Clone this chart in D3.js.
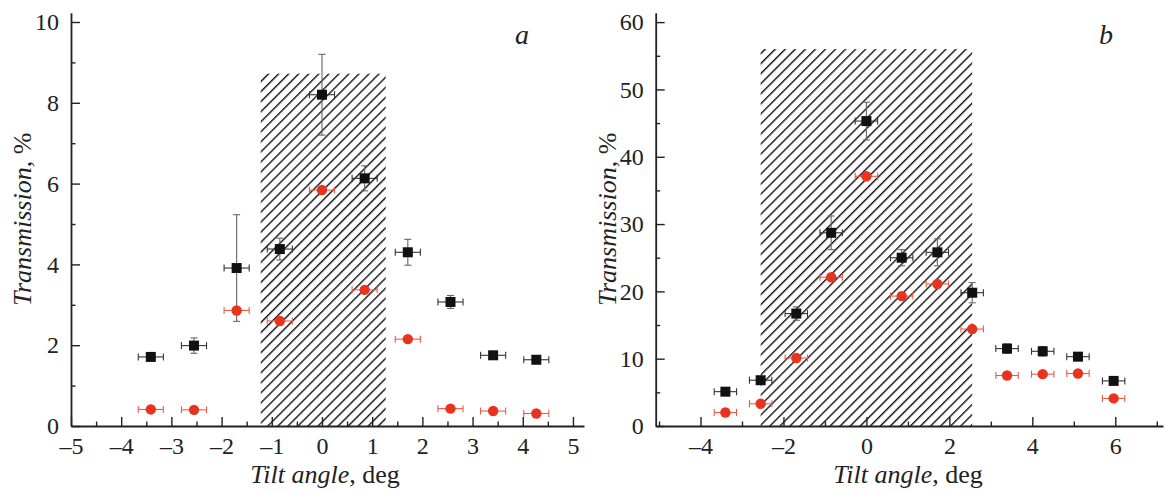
<!DOCTYPE html>
<html>
<head>
<meta charset="utf-8">
<script src="https://cdn.jsdelivr.net/npm/d3@7"></script>
<style>
    body { margin: 0; background: #fff; }
    svg text { font-family: "Liberation Serif", "Times New Roman", "DejaVu Serif", serif; fill: #222; }
    .axis path, .axis line { stroke: #222; }
    .axis path { stroke-width: 1.8; }
    .axis line { stroke-width: 1.4; }
</style>
</head>
<body>
<svg id="chart" width="1165" height="491"></svg>
<script>

var serif = "Liberation Serif, Times New Roman, DejaVu Serif, serif";

// panel a
var tiltA = [-3.41, -2.55, -1.70, -0.84, 0, 0.85, 1.71, 2.56, 3.41, 4.27];
var tiltErrA = [0.25, 0.25, 0.25, 0.25, 0.25, 0.25, 0.25, 0.25, 0.25, 0.25];
var blackA = [1.71, 1.99, 3.91, 4.38, 8.20, 6.13, 4.30, 3.07, 1.75, 1.64];
var blackErrA = [0.05, 0.19, 1.32, 0.27, 1.00, 0.31, 0.32, 0.16, 0.05, 0.05];
var redA = [0.41, 0.40, 2.86, 2.60, 5.84, 3.37, 2.15, 0.43, 0.37, 0.31];
var hatchA = [-1.22, 1.27, 8.72];   // x from, x to, top
var xTicksA = [-5, -4, -3, -2, -1, 0, 1, 2, 3, 4, 5];
var yTicksA = [0, 2, 4, 6, 8, 10];

// panel b
var tiltB = [-3.40, -2.55, -1.69, -0.85, 0, 0.85, 1.71, 2.55, 3.39, 4.25, 5.10, 5.96];
var tiltErrB = [0.27, 0.27, 0.27, 0.27, 0.27, 0.27, 0.27, 0.27, 0.27, 0.27, 0.27, 0.27];
var blackB = [5.1, 6.8, 16.7, 28.7, 45.3, 25.0, 25.8, 19.8, 11.5, 11.1, 10.3, 6.7];
var blackErrB = [0.4, 0.5, 1.0, 2.5, 2.8, 1.2, 2.0, 1.5, 0.7, 0.7, 0.4, 0.3];
var redB = [2.0, 3.3, 10.1, 22.1, 37.1, 19.3, 21.1, 14.4, 7.5, 7.7, 7.8, 4.1];
var hatchB = [-2.55, 2.55, 56.0];
var xTicksB = [-4, -2, 0, 2, 4, 6];
var yTicksB = [0, 10, 20, 30, 40, 50, 60];

var svg = d3.select("#chart");

var defs = svg.append("defs");
defs.append("pattern")
    .attr("id", "hatch")
    .attr("patternUnits", "userSpaceOnUse")
    .attr("width", 7.1)
    .attr("height", 7.1)
    .attr("patternTransform", "rotate(45)")
    .append("line")
    .attr("x1", 0).attr("y1", -1)
    .attr("x2", 0).attr("y2", 9)
    .attr("stroke", "#111")
    .attr("stroke-width", 2.8);

var panels = [
    {
        tilt: tiltA, tiltErr: tiltErrA, black: blackA, blackErr: blackErrA, red: redA,
        hatch: hatchA, xTicks: xTicksA, yTicks: yTicksA,
        xDomain: [-5, 5.22], xRange: [71, 584],
        yDomain: [0, 10.23], yRange: [426, 12.7],
        xMinorStep: 0.5, yMinorStep: 1,
        letter: "a", letterX: 522, titleX: 325, yTitleX: 31
    },
    {
        tilt: tiltB, tiltErr: tiltErrB, black: blackB, blackErr: blackErrB, red: redB,
        hatch: hatchB, xTicks: xTicksB, yTicks: yTicksB,
        xDomain: [-5.08, 7.15], xRange: [655.7, 1163],
        yDomain: [0, 61.4], yRange: [426, 12.7],
        xMinorStep: 1, yMinorStep: 5,
        letter: "b", letterX: 1106, titleX: 908, yTitleX: 616
    }
];

panels.forEach(drawPanel);

function drawPanel(p) {

    var x = d3.scaleLinear().domain(p.xDomain).range(p.xRange);
    var y = d3.scaleLinear().domain(p.yDomain).range(p.yRange);

    var g = svg.append("g");

    // hatched region
    g.append("rect")
        .attr("x", x(p.hatch[0]))
        .attr("y", y(p.hatch[2]))
        .attr("width", x(p.hatch[1]) - x(p.hatch[0]))
        .attr("height", y(0) - y(p.hatch[2]))
        .attr("fill", "url(#hatch)");

    // minor ticks
    var xMinor = d3.range(Math.ceil(p.xDomain[0] / p.xMinorStep) * p.xMinorStep, p.xDomain[1] + 1e-9, p.xMinorStep)
        .filter(function(v){ return p.xTicks.indexOf(+v.toFixed(2)) < 0 });
    var yMinor = d3.range(0, p.yDomain[1] + 1e-9, p.yMinorStep)
        .filter(function(v){ return p.yTicks.indexOf(+v.toFixed(2)) < 0 });

    g.append("g")
        .attr("class", "axis")
        .attr("transform", "translate(0," + y(0) + ")")
        .call(d3.axisBottom(x).tickValues(xMinor).tickSize(-4.5).tickFormat(""))
        .select(".domain").remove();

    g.append("g")
        .attr("class", "axis")
        .attr("transform", "translate(" + x(p.xDomain[0]) + ",0)")
        .call(d3.axisLeft(y).tickValues(yMinor).tickSize(-4.5).tickFormat(""))
        .select(".domain").remove();

    // major axes
    var xAxis = g.append("g")
        .attr("class", "axis")
        .attr("transform", "translate(0," + y(0) + ")")
        .call(d3.axisBottom(x).tickValues(p.xTicks).tickSize(-9).tickSizeOuter(0).tickPadding(11)
            .tickFormat(function(d){ return d < 0 ? "\u2013" + Math.abs(d) : d }));
    xAxis.attr("font-family", serif);
    xAxis.selectAll("text").attr("font-size", 24).attr("font-family", serif);

    var yAxis = g.append("g")
        .attr("class", "axis")
        .attr("transform", "translate(" + x(p.xDomain[0]) + ",0)")
        .call(d3.axisLeft(y).tickValues(p.yTicks).tickSize(-9).tickSizeOuter(0).tickPadding(12));
    yAxis.attr("font-family", serif);
    yAxis.selectAll("text").attr("font-size", 24).attr("font-family", serif);

    // error bars: red series (horizontal only)
    var cap = 3.5;
    var red = g.append("g").selectAll("g")
        .data(p.tilt.map(function(t, i){ return {x: t, xe: p.tiltErr[i], y: p.red[i]} }))
        .enter().append("g")
        .attr("stroke", "#ec5a48").attr("stroke-width", 1.1);

    red.append("line")
        .attr("x1", function(d){ return x(d.x - d.xe) }).attr("x2", function(d){ return x(d.x + d.xe) })
        .attr("y1", function(d){ return y(d.y) }).attr("y2", function(d){ return y(d.y) });
    red.append("line")
        .attr("x1", function(d){ return x(d.x - d.xe) }).attr("x2", function(d){ return x(d.x - d.xe) })
        .attr("y1", function(d){ return y(d.y) - cap }).attr("y2", function(d){ return y(d.y) + cap });
    red.append("line")
        .attr("x1", function(d){ return x(d.x + d.xe) }).attr("x2", function(d){ return x(d.x + d.xe) })
        .attr("y1", function(d){ return y(d.y) - cap }).attr("y2", function(d){ return y(d.y) + cap });

    // error bars: black series
    var black = g.append("g").selectAll("g")
        .data(p.tilt.map(function(t, i){ return {x: t, xe: p.tiltErr[i], y: p.black[i], ye: p.blackErr[i]} }))
        .enter().append("g")
        .attr("stroke-width", 1.1);

    black.append("line")
        .attr("stroke", "#333")
        .attr("x1", function(d){ return x(d.x - d.xe) }).attr("x2", function(d){ return x(d.x + d.xe) })
        .attr("y1", function(d){ return y(d.y) }).attr("y2", function(d){ return y(d.y) });
    black.append("line")
        .attr("stroke", "#333")
        .attr("x1", function(d){ return x(d.x - d.xe) }).attr("x2", function(d){ return x(d.x - d.xe) })
        .attr("y1", function(d){ return y(d.y) - cap }).attr("y2", function(d){ return y(d.y) + cap });
    black.append("line")
        .attr("stroke", "#333")
        .attr("x1", function(d){ return x(d.x + d.xe) }).attr("x2", function(d){ return x(d.x + d.xe) })
        .attr("y1", function(d){ return y(d.y) - cap }).attr("y2", function(d){ return y(d.y) + cap });
    black.append("line")
        .attr("stroke", "#666")
        .attr("x1", function(d){ return x(d.x) }).attr("x2", function(d){ return x(d.x) })
        .attr("y1", function(d){ return y(d.y - d.ye) }).attr("y2", function(d){ return y(d.y + d.ye) });
    black.append("line")
        .attr("stroke", "#666")
        .attr("x1", function(d){ return x(d.x) - cap }).attr("x2", function(d){ return x(d.x) + cap })
        .attr("y1", function(d){ return y(d.y - d.ye) }).attr("y2", function(d){ return y(d.y - d.ye) });
    black.append("line")
        .attr("stroke", "#666")
        .attr("x1", function(d){ return x(d.x) - cap }).attr("x2", function(d){ return x(d.x) + cap })
        .attr("y1", function(d){ return y(d.y + d.ye) }).attr("y2", function(d){ return y(d.y + d.ye) });

    // markers
    g.append("g").selectAll("circle")
        .data(p.tilt)
        .enter().append("circle")
        .attr("cx", function(d){ return x(d) })
        .attr("cy", function(d, i){ return y(p.red[i]) })
        .attr("r", 5.2)
        .attr("fill", "#e8341f");

    g.append("g").selectAll("rect")
        .data(p.tilt)
        .enter().append("rect")
        .attr("x", function(d){ return x(d) - 5 })
        .attr("y", function(d, i){ return y(p.black[i]) - 5 })
        .attr("width", 10)
        .attr("height", 10)
        .attr("fill", "#111");

    // titles
    var xt = g.append("text")
        .attr("x", p.titleX)
        .attr("y", 483)
        .attr("text-anchor", "middle")
        .attr("font-family", serif)
        .attr("font-size", 26);
    xt.append("tspan").attr("font-style", "italic").text("Tilt angle");
    xt.append("tspan").text(", deg");

    var yt = g.append("text")
        .attr("transform", "translate(" + p.yTitleX + "," + y((p.yDomain[0] + p.yDomain[1]) / 2) + ") rotate(-90)")
        .attr("text-anchor", "middle")
        .attr("font-family", serif)
        .attr("font-size", 26);
    yt.append("tspan").attr("font-style", "italic").text("Transmission");
    yt.append("tspan").text(", %");

    g.append("text")
        .attr("x", p.letterX)
        .attr("y", 44)
        .attr("text-anchor", "middle")
        .attr("font-family", serif)
        .attr("font-style", "italic")
        .attr("font-size", 28)
        .text(p.letter);
}

</script>
</body>
</html>
